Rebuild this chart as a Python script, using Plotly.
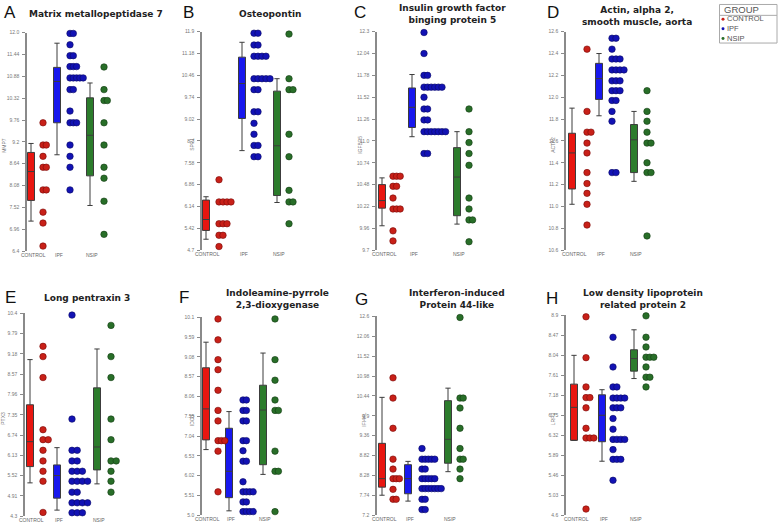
import plotly.graph_objects as go
from collections import Counter

W, H = 778, 527

GROUPS = ["CONTROL", "IPF", "NSIP"]
BOX_COLORS = ["rgb(232,22,16)", "rgb(24,24,238)", "rgb(44,124,44)"]
DOT_COLORS = ["rgb(200,32,24)", "rgb(18,18,180)", "rgb(40,110,40)"]
DOT_EDGE = ["rgb(120,10,8)", "rgb(10,10,100)", "rgb(20,60,20)"]

# ---------------- data ----------------
# box stats: [lower whisker, q1, median, q3, upper whisker]
A_CONTROL = [9.69, 9.12, 9.12, 8.83, 8.55, 8.55, 7.97, 7.97, 7.40, 7.12, 6.53]
A_IPF = [11.98, 11.98, 11.69, 11.41, 11.41, 11.13, 11.13, 11.13, 10.84, 10.84, 10.84, 10.84, 10.84,
         10.54, 10.54, 9.99, 9.69, 9.69, 9.69, 9.12, 8.83, 8.55, 7.97]
A_NSIP = [11.12, 10.54, 10.26, 10.26, 9.69, 9.12, 8.55, 8.27, 7.68, 6.83]
A_BOX_CONTROL = [7.17, 7.70, 8.44, 8.93, 9.16]
A_BOX_IPF = [8.87, 9.69, 10.75, 11.11, 11.73]
A_BOX_NSIP = [7.57, 8.33, 9.37, 10.33, 10.71]
A_TICKS = ["12.0", "11.44", "10.88", "10.32", "9.76", "9.2", "8.64", "8.08", "7.52", "6.96", "6.4"]

B_CONTROL = [7.02, 6.29, 6.29, 6.29, 6.29, 5.57, 5.57, 5.57, 5.19, 5.19, 4.82]
B_IPF = [11.85, 11.85, 11.46, 11.46, 11.09, 11.09, 11.09, 11.09, 10.35, 10.35, 10.35, 10.35, 10.35,
         9.99, 9.99, 9.26, 9.26, 8.88, 8.52, 8.15, 8.15, 7.78, 7.78]
B_NSIP = [11.82, 10.35, 9.99, 9.99, 8.52, 7.78, 6.67, 6.29, 6.29, 5.57]
B_BOX_CONTROL = [5.06, 5.35, 5.71, 6.35, 6.46]
B_BOX_IPF = [7.98, 9.04, 10.19, 11.06, 11.55]
B_BOX_NSIP = [6.27, 6.50, 8.14, 9.94, 10.35]
B_TICKS = ["11.9", "11.18", "10.46", "9.74", "9.02", "8.3", "7.58", "6.86", "6.14", "5.42", "4.7"]

C_CONTROL = [10.58, 10.58, 10.58, 10.46, 10.46, 10.32, 10.19, 10.19, 10.19, 9.93, 9.81]
C_IPF = [12.29, 12.04, 11.78, 11.78, 11.64, 11.64, 11.64, 11.64, 11.64, 11.64, 11.52, 11.38, 11.38,
         11.25, 11.25, 11.11, 11.11, 11.11, 11.11, 11.11, 11.11, 11.11, 10.85, 10.85]
C_NSIP = [11.38, 11.11, 10.98, 10.85, 10.71, 10.32, 10.19, 10.06, 10.06, 9.80]
C_BOX_CONTROL = [9.99, 10.20, 10.29, 10.48, 10.56]
C_BOX_IPF = [11.05, 11.16, 11.40, 11.63, 11.79]
C_BOX_NSIP = [10.01, 10.11, 10.57, 10.92, 11.11]
C_TICKS = ["12.3", "12.04", "11.78", "11.52", "11.26", "11.0", "10.74", "10.48", "10.22", "9.96", "9.7"]

D_CONTROL = [12.44, 11.87, 11.68, 11.68, 11.58, 11.49, 11.31, 11.21, 11.12, 11.02, 10.83]
D_IPF = [12.54, 12.54, 12.44, 12.35, 12.35, 12.35, 12.25, 12.25, 12.25, 12.25, 12.15, 12.15, 12.15,
         12.06, 12.06, 12.06, 11.97, 11.97, 11.87, 11.78, 11.31, 11.31]
D_NSIP = [12.06, 11.87, 11.78, 11.68, 11.58, 11.58, 11.40, 11.31, 11.31, 10.73]
D_BOX_CONTROL = [11.02, 11.16, 11.49, 11.67, 11.90]
D_BOX_IPF = [11.83, 11.98, 12.17, 12.31, 12.40]
D_BOX_NSIP = [11.23, 11.31, 11.61, 11.75, 11.87]
D_TICKS = ["12.6", "12.4", "12.2", "12.0", "11.8", "11.6", "11.4", "11.2", "11.0", "10.8", "10.6"]

E_CONTROL = [9.41, 9.10, 8.47, 6.90, 6.60, 6.60, 6.28, 5.96, 5.65, 5.35, 4.41]
E_IPF = [10.35, 7.22, 6.28, 6.28, 5.96, 5.96, 5.65, 5.65, 5.65, 5.35, 5.35, 5.35, 5.35,
         5.02, 5.02, 4.70, 4.70, 4.70, 4.70, 4.40, 4.40, 4.40]
E_NSIP = [10.04, 9.10, 8.47, 7.22, 6.60, 5.96, 5.96, 5.65, 5.35, 5.02]
E_BOX_CONTROL = [5.30, 5.79, 6.54, 7.65, 9.01]
E_BOX_IPF = [4.48, 4.84, 5.52, 5.84, 6.36]
E_BOX_NSIP = [5.27, 5.69, 6.38, 8.16, 9.33]
E_TICKS = ["10.4", "9.79", "9.18", "8.57", "7.96", "7.35", "6.74", "6.13", "5.52", "4.91", "4.3"]

F_CONTROL = [10.06, 9.52, 9.01, 8.75, 8.22, 7.70, 7.43, 6.92, 6.92, 6.92, 6.65, 5.60]
F_IPF = [7.97, 7.97, 7.70, 7.70, 7.43, 7.43, 6.92, 6.92, 6.66, 6.39, 6.39, 5.86, 5.60, 5.60, 5.60, 5.60,
         5.34, 5.34, 5.09, 5.09, 5.09, 5.09]
F_NSIP = [10.06, 9.01, 8.48, 7.97, 7.70, 7.70, 6.65, 6.13, 6.13, 5.09]
F_BOX_CONTROL = [6.69, 6.94, 7.74, 8.80, 9.46]
F_BOX_IPF = [5.11, 5.45, 6.13, 7.24, 7.67]
F_BOX_NSIP = [6.05, 6.30, 7.71, 8.35, 9.18]
F_TICKS = ["10.1", "9.59", "9.08", "8.57", "8.06", "7.55", "7.04", "6.53", "6.02", "5.51", "5.0"]

G_CONTROL = [10.93, 10.38, 9.56, 8.72, 8.45, 8.19, 8.19, 8.19, 7.90, 7.63, 7.63]
G_IPF = [9.01, 8.72, 8.72, 8.72, 8.72, 8.72, 8.45, 8.45, 8.19, 8.19, 8.19, 8.19, 8.19,
         7.92, 7.92, 7.92, 7.92, 7.92, 7.92, 7.92, 7.63, 7.63, 7.35, 7.35]
G_NSIP = [12.57, 10.38, 10.38, 10.11, 9.56, 9.01, 8.72, 8.72, 8.45, 8.19]
G_BOX_CONTROL = [7.74, 7.96, 8.19, 9.15, 10.40]
G_BOX_IPF = [7.58, 7.78, 8.19, 8.57, 8.66]
G_BOX_NSIP = [8.38, 8.61, 9.26, 10.31, 10.65]
G_TICKS = ["12.6", "12.06", "11.52", "10.98", "10.44", "9.9", "9.36", "8.82", "8.28", "7.74", "7.2"]

H_CONTROL = [8.87, 7.99, 7.36, 7.13, 7.13, 6.91, 6.47, 6.26, 6.26, 6.26, 4.73]
H_IPF = [8.43, 7.79, 7.36, 7.36, 7.12, 7.12, 7.12, 7.12, 6.91, 6.91, 6.91, 6.68, 6.45,
         6.23, 6.23, 6.23, 6.23, 6.01, 5.80, 5.80, 5.80, 5.35]
H_NSIP = [8.89, 8.43, 8.22, 8.00, 8.00, 8.00, 7.79, 7.57, 7.57, 7.36]
H_BOX_CONTROL = [6.21, 6.21, 6.92, 7.42, 8.04]
H_BOX_IPF = [5.76, 6.18, 6.75, 7.19, 7.30]
H_BOX_NSIP = [7.54, 7.70, 7.97, 8.16, 8.59]
H_TICKS = ["8.9", "8.47", "8.04", "7.61", "7.18", "6.75", "6.32", "5.89", "5.46", "5.03", "4.6"]

TITLES = ["Matrix metallopeptidase 7", "Osteopontin", "Insulin growth factor<br>binging protein 5",
          "Actin, alpha 2,<br>smooth muscle, aorta", "Long pentraxin 3",
          "Indoleamine-pyrrole<br>2,3-dioxygenase", "Interferon-induced<br>Protein 44-like",
          "Low density lipoprotein<br>related protein 2"]
LETTERS = ["A", "B", "C", "D", "E", "F", "G", "H"]
GENES = ["MMP7", "SPP1", "IGFBP5", "ACTA2", "PTX3", "IDO1", "IFI44L", "LRP2"]

DOTS = [(A_CONTROL, A_IPF, A_NSIP), (B_CONTROL, B_IPF, B_NSIP), (C_CONTROL, C_IPF, C_NSIP),
        (D_CONTROL, D_IPF, D_NSIP), (E_CONTROL, E_IPF, E_NSIP), (F_CONTROL, F_IPF, F_NSIP),
        (G_CONTROL, G_IPF, G_NSIP), (H_CONTROL, H_IPF, H_NSIP)]
BOXES = [(A_BOX_CONTROL, A_BOX_IPF, A_BOX_NSIP), (B_BOX_CONTROL, B_BOX_IPF, B_BOX_NSIP),
         (C_BOX_CONTROL, C_BOX_IPF, C_BOX_NSIP), (D_BOX_CONTROL, D_BOX_IPF, D_BOX_NSIP),
         (E_BOX_CONTROL, E_BOX_IPF, E_BOX_NSIP), (F_BOX_CONTROL, F_BOX_IPF, F_BOX_NSIP),
         (G_BOX_CONTROL, G_BOX_IPF, G_BOX_NSIP), (H_BOX_CONTROL, H_BOX_IPF, H_BOX_NSIP)]
TICKS = [A_TICKS, B_TICKS, C_TICKS, D_TICKS, E_TICKS, F_TICKS, G_TICKS, H_TICKS]

# ---------------- layout (pixels) ----------------
GEOM = [
    dict(ax=27, top=30, bot=251, box=(4, 30, 63), dot=(16, 43, 77), step=3.3, tx=96, ty=11, lx=10, ly=10, gx=4),
    dict(ax=202, top=29, bot=250, box=(4, 40, 75), dot=(17, 52, 87), step=4.0, tx=270, ty=11, lx=188, ly=10, gx=192),
    dict(ax=377, top=29, bot=250, box=(5, 35, 80), dot=(16, 47, 92), step=3.6, tx=452, ty=11, lx=360, ly=10, gx=360),
    dict(ax=566, top=29, bot=250, box=(6, 33, 68), dot=(21, 46, 81), step=4.0, tx=637, ty=13, lx=553, ly=10, gx=553),
    dict(ax=25, top=314, bot=519, box=(5, 32, 72), dot=(18, 47, 86), step=5.2, tx=87, ty=298, lx=10, ly=298, gx=3),
    dict(ax=202, top=318, bot=518, box=(4, 27, 61), dot=(16, 41, 73), step=3.4, tx=277, ty=299, lx=184, ly=298, gx=192),
    dict(ax=377, top=317, bot=518, box=(5, 31, 71), dot=(16, 45, 83), step=3.2, tx=457, ty=299, lx=361, ly=300, gx=364),
    dict(ax=566, top=316, bot=518, box=(8, 36, 68), dot=(20, 47, 80), step=3.9, tx=643, ty=299, lx=552, ly=299, gx=553),
]
PW = 130          # panel width in px (x units == px)
DOT_SIZE = 6.5

fig = go.Figure()
annotations = []
shapes = []


def px(x):
    return x / W


def py(y):
    return 1 - y / H


for i in range(8):
    g = GEOM[i]
    n = "" if i == 0 else str(i + 1)
    xref, yref = "x" + n, "y" + n
    ticks = TICKS[i]
    tv = [float(t) for t in ticks]
    lo, hi = min(tv), max(tv)
    for k in range(3):
        st = BOXES[i][k]
        fig.add_trace(go.Box(
            x=[g["box"][k]], lowerfence=[st[0]], q1=[st[1]], median=[st[2]], q3=[st[3]],
            upperfence=[st[4]], width=7, whiskerwidth=0.75, fillcolor=BOX_COLORS[k],
            line=dict(color="rgb(60,60,60)", width=1), boxpoints=False, orientation="v",
            xaxis=xref, yaxis=yref, showlegend=False, hoverinfo="skip"))
        vals = DOTS[i][k]
        seen = Counter()
        xs = []
        for v in vals:
            xs.append(g["dot"][k] + seen[v] * g["step"])
            seen[v] += 1
        fig.add_trace(go.Scatter(
            x=xs, y=vals, mode="markers", cliponaxis=False, xaxis=xref, yaxis=yref,
            marker=dict(size=DOT_SIZE, color=DOT_COLORS[k], line=dict(color=DOT_EDGE[k], width=0.6)),
            showlegend=False, hoverinfo="skip"))
        # group label under the axis
        annotations.append(dict(text=GROUPS[k], x=px(g["ax"] + g["box"][k] + 2), y=py(g["bot"] + 4),
                                xref="paper", yref="paper", showarrow=False, xanchor="center",
                                yanchor="middle", borderpad=0, borderwidth=0,
                                font=dict(size=5, color="#666", family="Liberation Sans")))
    fig.layout["xaxis" + n] = dict(
        domain=[px(g["ax"]), px(g["ax"] + PW)], range=[0, PW], anchor=yref,
        showgrid=False, zeroline=False, showline=False, ticks="", showticklabels=False)
    fig.layout["yaxis" + n] = dict(
        domain=[py(g["bot"]), py(g["top"])], range=[lo, hi], anchor=xref,
        showgrid=False, zeroline=False, showline=True, linecolor="#8a8a8a", linewidth=1.5,
        ticks="outside", ticklen=3, tickcolor="#8a8a8a", tickwidth=1,
        tickvals=tv, ticktext=ticks, ticklabelstandoff=2,
        tickfont=dict(size=5, color="#777", family="Liberation Sans"))
    annotations.append(dict(text="<b>" + TITLES[i] + "</b>", x=px(g["tx"]), y=py(g["ty"]),
                            xref="paper", yref="paper", showarrow=False, xanchor="center",
                            yanchor="middle", borderpad=0,
                            font=dict(size=9, family="DejaVu Sans", color="#222")))
    annotations.append(dict(text=LETTERS[i], x=px(g["lx"]), y=py(g["ly"]), xref="paper", yref="paper",
                            showarrow=False, xanchor="center", yanchor="middle", borderpad=0,
                            font=dict(size=17, family="Liberation Sans", color="#111")))
    annotations.append(dict(text=GENES[i], x=px(g["gx"]), y=py((g["top"] + g["bot"]) / 2 + 4),
                            xref="paper", yref="paper", showarrow=False, textangle=-90,
                            xanchor="center", yanchor="middle", borderpad=0,
                            font=dict(size=5, family="Liberation Sans", color="#777")))

# custom legend
shapes.append(dict(type="rect", xref="paper", yref="paper", x0=px(719.5), x1=px(777), y0=py(40.5), y1=py(1.5),
                   line=dict(color="#aaa", width=1), fillcolor="white"))
shapes.append(dict(type="line", xref="paper", yref="paper", x0=px(719.5), x1=px(777), y0=py(12.5), y1=py(12.5),
                   line=dict(color="#aaa", width=1)))
annotations.append(dict(text="GROUP", x=px(723), y=py(7), xref="paper", yref="paper", showarrow=False,
                        xanchor="left", yanchor="middle", borderpad=0,
                        font=dict(size=9.5, family="Liberation Sans", color="#555")))
annotations.append(dict(text="<br>".join(GROUPS), x=px(725.5), y=py(26), xref="paper", yref="paper",
                        showarrow=False, xanchor="left", yanchor="middle", align="left", borderpad=0,
                        font=dict(size=7.5, family="Liberation Sans", color="#555")))
for k in range(3):
    yy = 16.4 + k * 9.75
    shapes.append(dict(type="circle", xref="paper", yref="paper", x0=px(721.5), x1=px(724.5),
                       y0=py(yy + 1.5), y1=py(yy - 1.5), fillcolor=DOT_COLORS[k], line=dict(width=0)))

fig.update_layout(width=W, height=H, margin=dict(l=0, r=0, t=0, b=0),
                  paper_bgcolor="white", plot_bgcolor="white",
                  annotations=annotations, shapes=shapes, showlegend=False)
fig.write_html("out.html", config={"displayModeBar": False},
               post_script="document.body.style.margin='0';document.body.style.padding='0';"
                           "document.body.style.overflow='hidden';")
